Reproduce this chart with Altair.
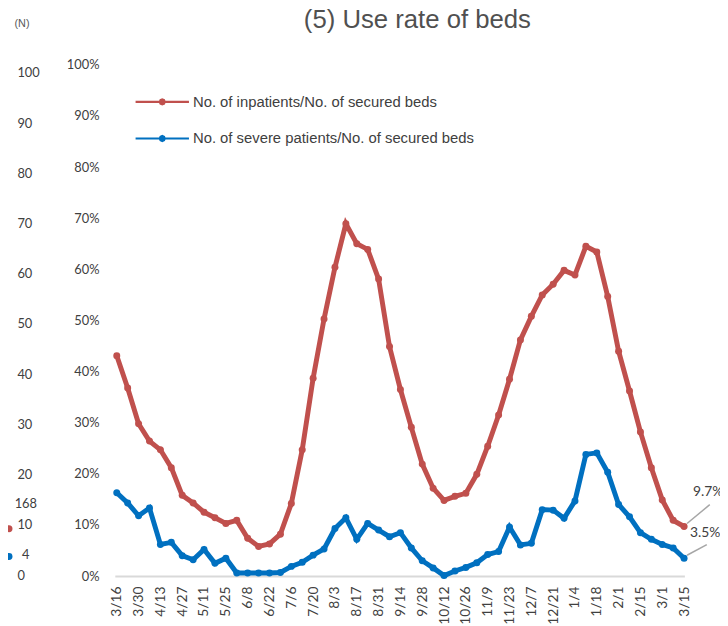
import altair as alt
import pandas as pd

# ---------------- data ----------------
dates = ["3/16", "3/23", "3/30", "4/6", "4/13", "4/20", "4/27", "5/4", "5/11", "5/18",
         "5/25", "6/1", "6/8", "6/15", "6/22", "6/29", "7/6", "7/13", "7/20", "7/27",
         "8/3", "8/10", "8/17", "8/24", "8/31", "9/7", "9/14", "9/21", "9/28", "10/5",
         "10/12", "10/19", "10/26", "11/2", "11/9", "11/16", "11/23", "11/30", "12/7", "12/14",
         "12/21", "12/28", "1/4", "1/11", "1/18", "1/25", "2/1", "2/8", "2/15", "2/22",
         "3/1", "3/8", "3/15"]

inpatients_pct = [43.1, 36.8, 29.8, 26.4, 24.7, 21.2, 15.8, 14.3, 12.5, 11.4,
                  10.3, 10.9, 7.4, 5.8, 6.3, 8.2, 14.2, 24.7, 38.7, 50.3,
                  60.4, 68.9, 65.0, 63.9, 58.1, 44.9, 36.5, 29.1, 21.9, 17.2,
                  14.8, 15.6, 16.2, 19.9, 25.4, 31.5, 38.5, 46.2, 50.8, 55.0,
                  57.1, 59.8, 58.9, 64.5, 63.4, 54.7, 44.0, 36.2, 28.2, 21.2,
                  14.9, 10.9, 9.7]

severe_pct = [16.3, 14.3, 11.8, 13.3, 6.2, 6.6, 4.0, 3.2, 5.2, 2.5,
              3.5, 0.6, 0.6, 0.6, 0.6, 0.7, 1.9, 2.7, 4.1, 5.3,
              9.3, 11.4, 7.2, 10.3, 9.0, 7.7, 8.5, 5.5, 3.0, 1.6,
              0.1, 1.0, 1.7, 2.6, 4.2, 4.8, 9.6, 6.1, 6.4, 13.0,
              12.9, 11.3, 14.7, 23.8, 24.1, 20.3, 14.0, 11.6, 8.5, 7.2,
              6.2, 5.5, 3.5]

series_names = ["No. of inpatients/No. of secured beds",
                "No. of severe patients/No. of secured beds"]
series_colors = ["#C0504D", "#0070C0"]

tick_idx = list(range(0, len(dates), 2))
y_ticks = [i / 10 for i in range(11)]

# remnant of the neighbouring chart on the left edge
n_ticks = list(range(0, 101, 10))
n_dot_values = [9.25, 3.7]
n_label_texts = ["168", "4"]
n_label_values = [14.2, 3.9]

rows = []
for name, vals in zip(series_names, [inpatients_pct, severe_pct]):
    for i, (d, v) in enumerate(zip(dates, vals)):
        rows.append({"idx": i, "date": d, "series": name, "value": v / 100})
df = pd.DataFrame(rows)
last = df[df["date"] == dates[-1]]

AXIS_FONT = "Lato"
TEXT_COLOR = "#404040"

label_expr = "[" + ",".join("'" + d + "'" for d in dates) + "][datum.value]"

x_enc = alt.X("idx:Q",
              scale=alt.Scale(domain=[-0.18, len(dates) - 1 + 0.03], nice=False, zero=False),
              axis=alt.Axis(values=tick_idx, labelExpr=label_expr, labelAngle=-90, ticks=False,
                            labelFlush=False, labelOverlap=False,
                            domainColor="#D9D9D9", domainWidth=2, labelPadding=10,
                            labelFont=AXIS_FONT, labelFontSize=14, labelColor=TEXT_COLOR,
                            title=None, grid=False))
y_enc = alt.Y("value:Q", scale=alt.Scale(domain=[0, 1], nice=False),
              axis=alt.Axis(values=y_ticks, format=".0%", domain=False, ticks=False,
                            grid=False, labelPadding=16, labelFont=AXIS_FONT,
                            labelFontSize=13, labelColor=TEXT_COLOR, title=None))

# legend symbol: horizontal line with a small dot (octagon) in the middle
legend_path = ("M-2,0L2,0M0.185,0L0.131,0.131L0,0.185L-0.131,0.131L-0.185,0"
               "L-0.131,-0.131L0,-0.185L0.131,-0.131Z")
color_enc = alt.Color("series:N",
                      scale=alt.Scale(domain=series_names, range=series_colors),
                      legend=alt.Legend(title=None, orient="none", legendX=33, legendY=22.5,
                                        symbolType=legend_path, symbolSize=729,
                                        symbolStrokeWidth=2.2, labelOffset=16, rowPadding=14,
                                        labelFont="Liberation Sans", labelFontSize=15,
                                        labelLimit=400, labelColor=TEXT_COLOR, padding=0))

lines = alt.Chart(df).mark_line(
    strokeWidth=5,
    point=alt.OverlayMarkDef(filled=True, size=50, opacity=1)
).encode(x=x_enc, y=y_enc, color=color_enc)

leader_paths = ["M0.13,-0.13L1.13,-0.96", "M0.13,-0.13L1.0,-0.6"]
label_dx = [9, 6]
label_dy = [-35, -25]

annot_layers = []
for i, name in enumerate(series_names):
    base = alt.Chart(last).transform_filter(alt.datum.series == name)
    annot_layers.append(
        base.mark_point(shape=leader_paths[i], filled=False, opacity=1, strokeWidth=1.5,
                        color="#A6A6A6", size=2116).encode(x=x_enc, y=y_enc)
    )
    annot_layers.append(
        base.mark_text(align="left", baseline="middle", dx=label_dx[i], dy=label_dy[i],
                       font=AXIS_FONT, fontSize=14, color=TEXT_COLOR).encode(
            x=x_enc, y=y_enc, text=alt.Text("value:Q", format=".1%"))
    )

main = alt.layer(lines, *annot_layers)

# ----- remnant axis (N) -----
n_axis = alt.Axis(orient="left", values=n_ticks, labelAlign="left", labelPadding=99,
                  ticks=False, domain=False, grid=False, labelFont=AXIS_FONT,
                  labelFontSize=13, labelColor=TEXT_COLOR,
                  title="(N)", titleAngle=0, titleAlign="left", titleBaseline="middle",
                  titleX=-102, titleY=-42, titleFont="Liberation Sans", titleFontSize=11,
                  titleFontWeight="normal", titleColor="#595959")
n_scale = alt.Scale(domain=[-0.2, 101.6], nice=False, zero=False)

dot_layers = []
for i, col in enumerate(series_colors):
    dot_layers.append(
        alt.Chart(pd.DataFrame({"n": [n_dot_values[i]]})).mark_circle(
            size=50, opacity=1, color=col
        ).encode(x=alt.value(-107), y=alt.Y("n:Q", scale=n_scale, axis=n_axis))
    )
n_labels = alt.Chart(pd.DataFrame({"n": n_label_values, "t": n_label_texts})).mark_text(
    align="center", baseline="middle", font=AXIS_FONT, fontSize=13, color=TEXT_COLOR
).encode(x=alt.value(-90), y=alt.Y("n:Q", scale=n_scale, axis=n_axis), text="t:N")

remnant = alt.layer(*dot_layers, n_labels)

chart = alt.layer(main, remnant).resolve_scale(y="independent").properties(
    width=576, height=517,
    autosize=alt.AutoSizeParams(type="none"),
    padding={"left": 108, "top": 54, "right": 36, "bottom": 47},
    title=alt.TitleParams("(5) Use rate of beds", font="Liberation Sans", fontSize=26,
                          fontWeight="normal", color="#505050", anchor="middle",
                          frame="group", offset=-37, dx=18, baseline="alphabetic")
).configure_view(strokeWidth=0)

chart.save("out.html", embed_options={"renderer": "svg", "actions": False})
